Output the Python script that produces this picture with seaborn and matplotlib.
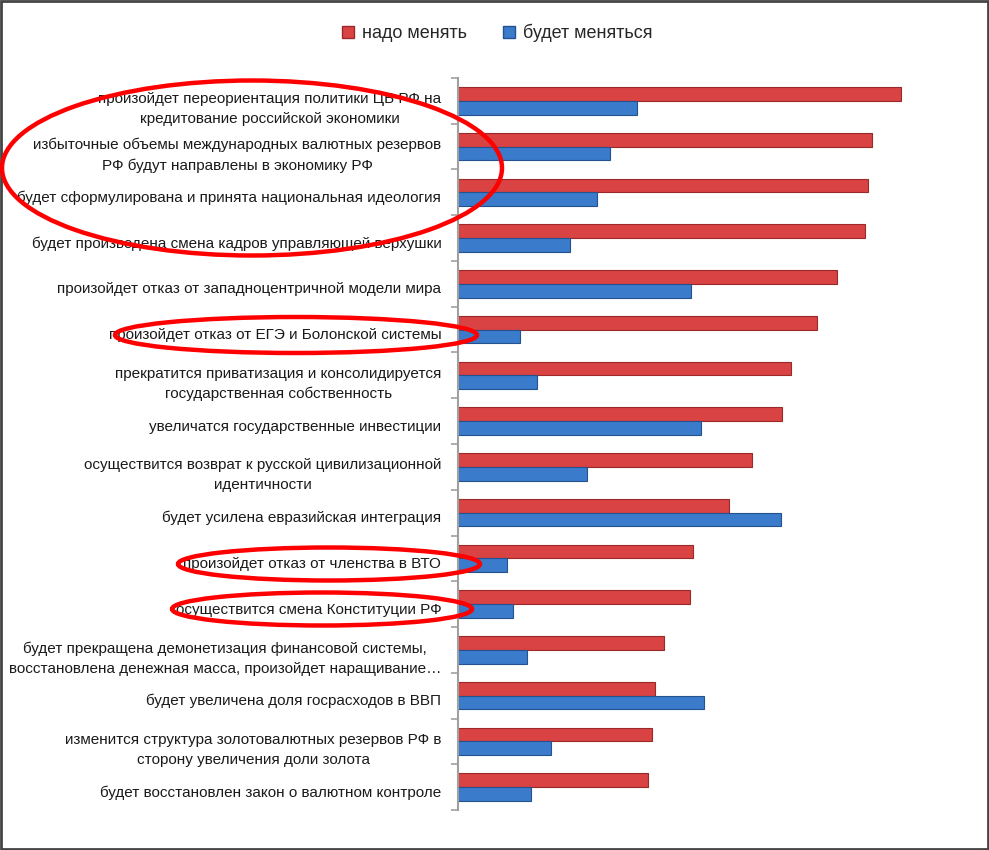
import matplotlib
matplotlib.use("Agg")
import matplotlib.pyplot as plt
import matplotlib.transforms as mtransforms
from matplotlib.patches import Ellipse, Rectangle, Patch
import seaborn as sns
import pandas as pd

categories = [
    "произойдет переориентация политики ЦБ РФ на\nкредитование российской экономики",
    "избыточные объемы международных валютных резервов\nРФ будут направлены в экономику РФ",
    "будет сформулирована и принята национальная идеология",
    "будет произведена смена кадров управляющей верхушки",
    "произойдет отказ от западноцентричной модели мира",
    "произойдет отказ от ЕГЭ и Болонской системы",
    "прекратится приватизация и консолидируется\nгосударственная собственность",
    "увеличатся государственные инвестиции",
    "осуществится возврат к русской цивилизационной\nидентичности",
    "будет усилена евразийская интеграция",
    "произойдет отказ от членства в ВТО",
    "осуществится смена Конституции РФ",
    "будет прекращена демонетизация финансовой системы,\nвосстановлена денежная масса, произойдет наращивание…",
    "будет увеличена доля госрасходов в ВВП",
    "изменится структура золотовалютных резервов РФ в\nсторону увеличения доли золота",
    "будет восстановлен закон о валютном контроле",
]
need_change = [88.6, 82.8, 82.0, 81.4, 75.8, 71.8, 66.6, 64.8, 58.8, 54.2,
               47.0, 46.4, 41.2, 39.4, 38.8, 38.0]
will_change = [35.8, 30.4, 27.8, 22.4, 46.6, 12.4, 15.8, 48.6, 25.8, 64.6,
               9.8, 11.0, 13.8, 49.2, 18.6, 14.6]
series_names = ["надо менять", "будет меняться"]

df = pd.DataFrame({
    "cat": categories * 2,
    "val": need_change + will_change,
    "series": [series_names[0]] * len(categories) + [series_names[1]] * len(categories),
})

red = "#D94343"
blue = "#3A7BCB"
red_edge = "#9A2A2A"
blue_edge = "#24528F"

sns.set_theme(style="white")
plt.rcParams["font.family"] = ["Liberation Sans", "DejaVu Sans"]

fig = plt.figure(figsize=(9.89, 8.5), dpi=100)
W, H = 989, 850
ax = fig.add_axes([458 / W, 1 - 810 / H, 500 / W, (810 - 78) / H])

sns.barplot(data=df, y="cat", x="val", hue="series", order=categories,
            hue_order=series_names, palette=[red, blue], width=0.6,
            orient="h", ax=ax, legend=False, saturation=1)

for bar in ax.patches:
    ec = red_edge if bar.get_facecolor()[0] > 0.6 else blue_edge
    bar.set_edgecolor(ec)
    bar.set_linewidth(0.8)

ax.set_xlim(0, 100)
ax.set_ylim(len(categories) - 0.5, -0.5)
ax.set_xlabel("")
ax.set_ylabel("")
ax.set_xticks([])
for s in ["top", "right", "bottom"]:
    ax.spines[s].set_visible(False)
ax.spines["left"].set_color("#A0A0A0")
ax.spines["left"].set_linewidth(1.5)

ax.tick_params(axis="y", which="major", length=0, pad=12, labelsize=11,
               labelcolor="#1a1a1a")
ax.set_yticks([i + 0.5 for i in range(-1, len(categories))], minor=True)
ax.tick_params(axis="y", which="minor", length=5, width=1.2, color="#A0A0A0",
               direction="out", left=True)
shift = mtransforms.ScaledTranslation(0, -4 / 100, fig.dpi_scale_trans)
for lab in ax.get_yticklabels():
    lab.set_multialignment("center")
    lab.set_linespacing(1.55)
    lab.set_transform(lab.get_transform() + shift)

handles = [Patch(facecolor=red, edgecolor=red_edge, label=series_names[0]),
           Patch(facecolor=blue, edgecolor=blue_edge, label=series_names[1])]
fig.legend(handles=handles, loc="center", bbox_to_anchor=(497 / W, 1 - 33 / H),
           ncol=2, frameon=False, fontsize=13, handlelength=0.7, handleheight=0.7,
           handletextpad=0.4, columnspacing=2.0)

ellipses = [((252, 168), 500, 175), ((296, 335), 362, 36),
            ((329, 564), 302, 33), ((322, 609), 300, 33)]
for (cx, cy), ew, eh in ellipses:
    fig.add_artist(Ellipse((cx / W, 1 - cy / H), ew / W, eh / H,
                           transform=fig.transFigure, fill=False,
                           edgecolor="#FF0000", linewidth=3.2, zorder=10))

fig.add_artist(Rectangle((0.001, 0.001), 0.998, 0.998, transform=fig.transFigure,
                         fill=False, edgecolor="#444444", linewidth=2))

fig.savefig("out.png", dpi=100)
